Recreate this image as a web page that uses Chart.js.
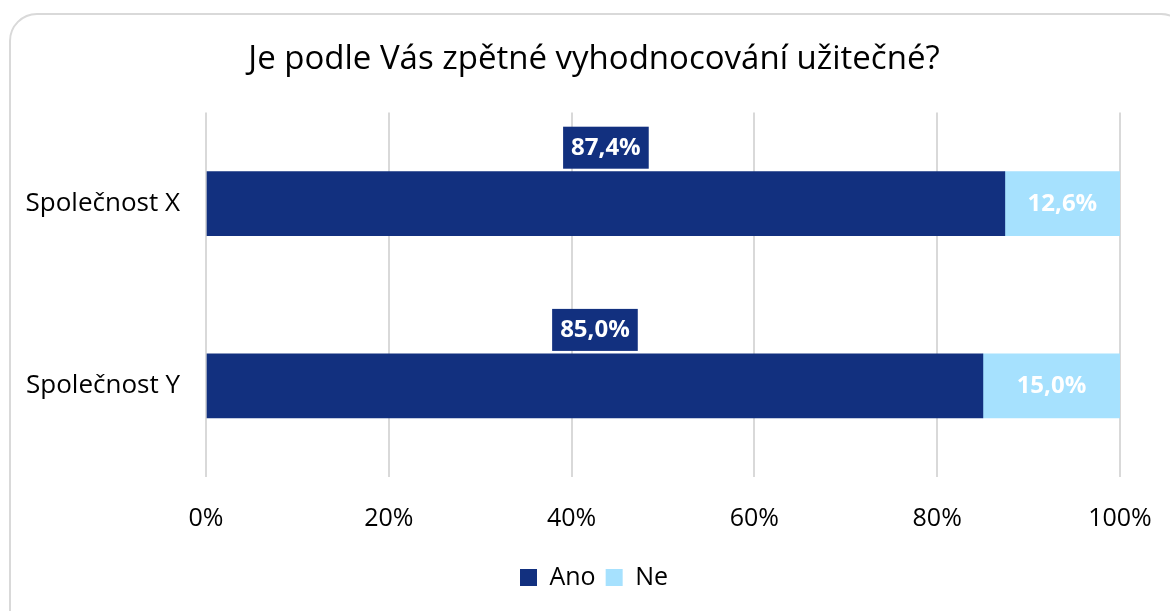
<!DOCTYPE html>
<html>
<head>
<meta charset="utf-8">
<script src="https://cdn.jsdelivr.net/npm/chart.js@4"></script>
<style>
  html, body { margin: 0; padding: 0; background: #fff; overflow: hidden; }
  body { width: 1170px; height: 611px; position: relative; }
  .frame {
    position: absolute; left: 9px; top: 13px;
    width: 1180px; height: 640px;
    border: 2px solid #d9d9d9; border-radius: 28px;
    box-sizing: border-box; background: #fff;
  }
  .chart-box { position: absolute; left: 11px; top: 15px; width: 1170px; height: 596px; }
</style>
</head>
<body>
<div class="frame"></div>
<div class="chart-box"><canvas id="chart"></canvas></div>
<script>
// Data
const categories = ['Společnost X', 'Společnost Y'];
const anoValues = [87.4, 85.0];
const neValues = [12.6, 15.0];
const tickLabels = ['0%', '20%', '40%', '60%', '80%', '100%'];

const DARK = '#12307f';
const LIGHT = '#a6e1fe';
const FONT = "'Open Sans', 'Noto Sans', sans-serif";

function fmt(v) {
  return v.toFixed(1).replace('.', ',') + '%';
}

// draws value labels: boxed above the bar for Ano, plain inside the bar for Ne
const barLabels = {
  id: 'barLabels',
  afterDatasetsDraw(chart) {
    const ctx = chart.ctx;
    ctx.save();
    ctx.font = "bold 24px " + FONT;
    ctx.textAlign = 'center';
    ctx.textBaseline = 'middle';
    chart.data.datasets.forEach((ds, di) => {
      const meta = chart.getDatasetMeta(di);
      meta.data.forEach((bar, i) => {
        const text = fmt(ds.data[i]);
        const cx = (bar.base + bar.x) / 2;
        if (di === 0) {
          const w = ctx.measureText(text).width + 16;
          const h = 42;
          const top = bar.y - bar.height / 2 - 3 - h;
          ctx.fillStyle = DARK;
          ctx.fillRect(cx - w / 2, top, w, h);
          ctx.fillStyle = '#fff';
          ctx.fillText(text, cx, top + h / 2);
        } else {
          ctx.fillStyle = '#fff';
          ctx.fillText(text, cx, bar.y);
        }
      });
    });
    ctx.restore();
  }
};

new Chart(document.getElementById('chart'), {
  type: 'bar',
  data: {
    labels: categories,
    datasets: [
      { label: 'Ano', data: anoValues, backgroundColor: DARK, barThickness: 64 },
      { label: 'Ne', data: neValues, backgroundColor: LIGHT, barThickness: 64 }
    ]
  },
  options: {
    indexAxis: 'y',
    responsive: true,
    maintainAspectRatio: false,
    animation: false,
    layout: { padding: { left: 0, right: 4, top: 0, bottom: 11 } },
    plugins: {
      title: {
        display: true,
        text: 'Je podle Vás zpětné vyhodnocování užitečné?',
        color: '#000',
        font: { family: FONT, size: 33, weight: 'normal' },
        padding: { top: 25, bottom: 33 }
      },
      legend: {
        position: 'bottom',
        labels: {
          color: '#000',
          font: { family: FONT, size: 25 },
          boxWidth: 17,
          boxHeight: 17,
          padding: 10
        }
      },
      tooltip: { enabled: false }
    },
    scales: {
      x: {
        stacked: true,
        min: 0,
        max: 100,
        grid: { color: '#d9d9d9', lineWidth: 2, drawTicks: false },
        border: { display: false },
        ticks: {
          stepSize: 20,
          color: '#000',
          padding: 27,
          maxRotation: 0,
          font: { family: FONT, size: 25 },
          callback: (v, i) => tickLabels[i]
        },
        afterFit(scale) { scale.height -= 6; }
      },
      y: {
        stacked: true,
        grid: { display: false, drawTicks: false },
        border: { display: false },
        ticks: {
          color: '#000',
          padding: 26,
          font: { family: FONT, size: 26 }
        },
        afterFit(scale) { scale.width = 195; }
      },
      // empty right-hand gutter so the plot ends at 100% where the frame still has room
      gutter: {
        type: 'linear',
        position: 'right',
        axis: 'y',
        grid: { display: false },
        border: { display: false },
        ticks: { display: false },
        afterFit(scale) { scale.width = 57; }
      }
    }
  },
  plugins: [barLabels]
});
</script>
</body>
</html>
